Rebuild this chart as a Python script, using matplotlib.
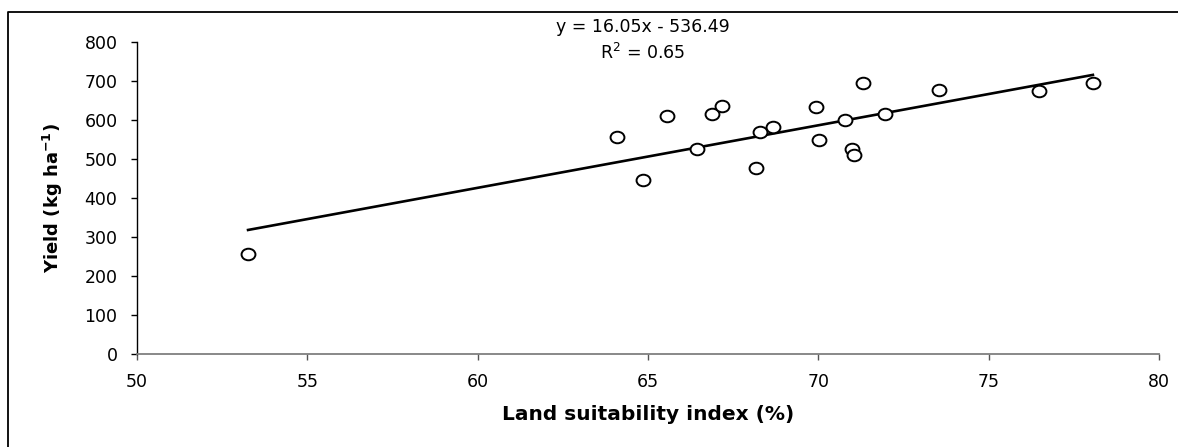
import numpy as np
import matplotlib
matplotlib.use("Agg")
import matplotlib.pyplot as plt
from matplotlib.lines import Line2D
from matplotlib.path import Path
from matplotlib.transforms import Affine2D

plt.rcParams['font.family'] = ['DejaVu Sans']
plt.rcParams['mathtext.fontset'] = 'dejavusans'

# Data
lsi = [53.26, 64.10, 64.84, 65.55, 66.45, 66.87, 67.18, 68.17, 68.28, 68.67,
       69.93, 70.03, 70.79, 71.00, 71.05, 71.30, 71.95, 73.55, 76.48, 78.06]
yield_ = [256, 558, 447, 612, 525, 616, 637, 478, 570, 583,
          634, 548, 601, 526, 511, 696, 616, 678, 674, 696]
slope = 16.05
intercept = -536.49
r2 = 0.65

x_ticks = [50, 55, 60, 65, 70, 75, 80]
y_ticks = [0, 100, 200, 300, 400, 500, 600, 700, 800]

fig = plt.figure(figsize=(11.78, 4.47), dpi=100)
ax = fig.add_axes([137/1178, 1-354/447, (1159-137)/1178, (354-42.3)/447])

# slightly wide elliptical marker, as in the reference
ell = Affine2D().scale(1.2, 1.0).transform_path(Path.unit_circle())
ax.scatter(lsi, yield_, s=100, marker=ell, facecolors='white', edgecolors='black',
           linewidths=1.4, zorder=3)
xf = np.array([min(lsi), max(lsi)])
ax.plot(xf, slope*xf + intercept, color='black', lw=1.9, zorder=2)

ax.set_xlim(50, 80)
ax.set_ylim(0, 800)
ax.set_xticks(x_ticks)
ax.set_yticks(y_ticks)
ax.spines['top'].set_visible(False)
ax.spines['right'].set_visible(False)
ax.spines['left'].set_color('black')
ax.spines['bottom'].set_color('#7f7f7f')
ax.spines['bottom'].set_linewidth(1.3)
ax.spines['left'].set_linewidth(1.0)
ax.tick_params(axis='y', direction='out', length=4, width=1, color='black',
               labelsize=12.5, pad=10)
ax.tick_params(axis='x', direction='out', length=4, width=1, color='#555555',
               labelsize=12.5, pad=10)

ax.set_xlabel('Land suitability index (%)', fontsize=14.5, fontweight='bold', labelpad=10)
ax.set_ylabel(r'Yield (kg ha$^{\mathbf{-1}}$)', fontsize=13, fontweight='bold', labelpad=14)

ax.text(0.495, 1.05, f'y = {slope:.2f}x - {abs(intercept):.2f}', transform=ax.transAxes,
        ha='center', va='center', fontsize=12.5, clip_on=False)
ax.text(0.495, 0.965, f'R$^2$ = {r2:.2f}', transform=ax.transAxes,
        ha='center', va='center', fontsize=12.5, clip_on=False)

# outer frame (left and top lines)
fx = 8/1178
fy = 1 - 12/447
fig.add_artist(Line2D([fx, fx, 1.0], [0.0, fy, fy], transform=fig.transFigure,
                      color='black', lw=1.3))

fig.savefig('out.png', dpi=100)
